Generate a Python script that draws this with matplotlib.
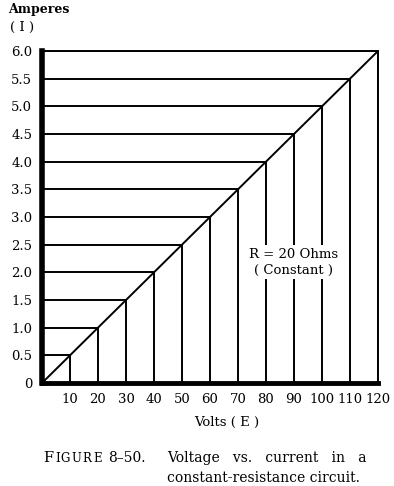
import matplotlib
matplotlib.use("Agg")
import matplotlib.pyplot as plt

volts = [0, 10, 20, 30, 40, 50, 60, 70, 80, 90, 100, 110, 120]
amps = [0, 0.5, 1.0, 1.5, 2.0, 2.5, 3.0, 3.5, 4.0, 4.5, 5.0, 5.5, 6.0]
xtick_labels = ["10", "20", "30", "40", "50", "60", "70", "80", "90", "100", "110", "120"]
ytick_labels = ["0", "0.5", "1.0", "1.5", "2.0", "2.5", "3.0", "3.5", "4.0", "4.5", "5.0", "5.5", "6.0"]

FONT = "DejaVu Serif"
plt.rcParams['font.family'] = [FONT]

fig = plt.figure(figsize=(3.94, 4.86), dpi=100)
ax = fig.add_axes([42/394, 103/486, 336/394, 332/486])

ax.plot(volts, amps, color="black", lw=1.4, solid_capstyle="butt")
ax.hlines(amps[1:], 0, volts[1:], color="black", lw=1.4)
ax.vlines(volts[1:], 0, amps[1:], color="black", lw=1.4)

ax.set_xlim(0, 120)
ax.set_ylim(0, 6.0)
ax.set_xticks(volts[1:])
ax.set_xticklabels(xtick_labels, fontsize=9.5)
ax.set_yticks(amps)
ax.set_yticklabels(ytick_labels, fontsize=9.5)
ax.tick_params(length=0, pad=7)
ax.spines['left'].set_linewidth(4)
ax.spines['bottom'].set_linewidth(3.5)
ax.spines['top'].set_linewidth(1.4)
ax.spines['right'].set_linewidth(1.4)
for s in ax.spines.values():
    s.set_color("black")

box = dict(facecolor="white", edgecolor="none", pad=1.5)
ax.text(90, 2.33, "R = 20 Ohms", ha="center", va="center", fontsize=9.5, bbox=box)
ax.text(90, 2.03, "( Constant )", ha="center", va="center", fontsize=9.5, bbox=box)

fig.text(227/394, 1 - 422/486, "Volts ( E )", ha="center", va="center", fontsize=9.5)
fig.text(8/394, 1 - 9/486, "Amperes", ha="left", va="center", fontsize=9, fontweight="bold")
fig.text(10/394, 1 - 27/486, "( I )", ha="left", va="center", fontsize=9.5)

y1 = 1 - 462/486
fig.text(43/394, y1, "F", ha="left", va="baseline", fontsize=10.5)
for ch, xp in zip("IGURE", [55, 60, 71, 82, 93]):
    fig.text(xp/394, y1, ch, ha="left", va="baseline", fontsize=8.5)
fig.text(108/394, y1, "8–50.", ha="left", va="baseline", fontsize=10)
fig.text(167/394, y1, "Voltage   vs.   current   in   a", ha="left", va="baseline", fontsize=10)
fig.text(167/394, 1 - 482/486, "constant-resistance circuit.", ha="left", va="baseline", fontsize=10)

fig.savefig("out.png", dpi=100)
